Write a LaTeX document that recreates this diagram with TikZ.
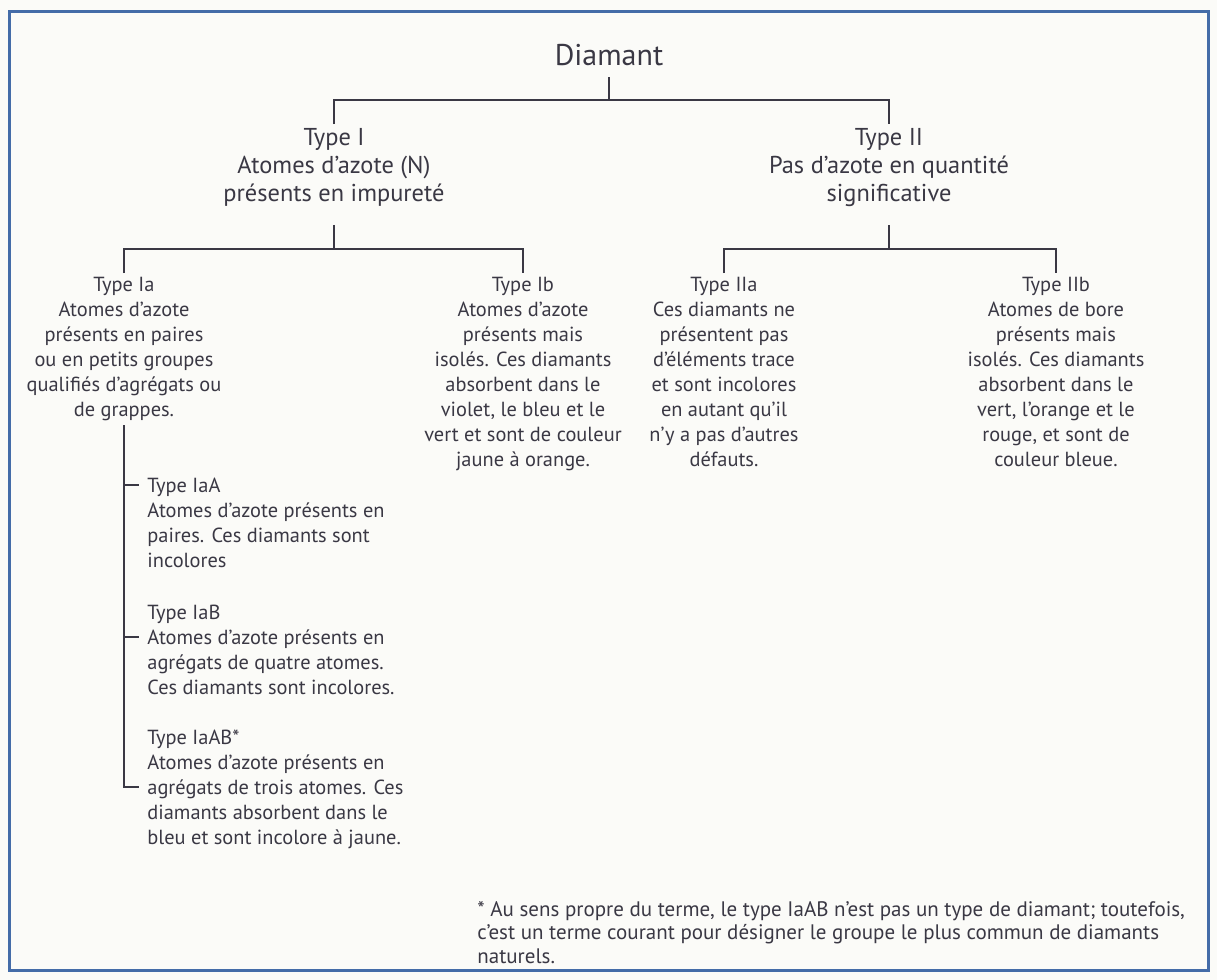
\documentclass[tikz,border=0pt]{standalone}
\usepackage{fontspec}
\setmainfont{PT Sans}
\definecolor{ink}{RGB}{58,56,68}
\definecolor{frameblue}{RGB}{68,108,168}
\definecolor{paper}{RGB}{251,251,248}
\begin{document}
\begin{tikzpicture}[
    x=0.5pt,
    y=-0.5pt,
    link/.style={draw=ink, line width=1.2pt},
    root/.style={font=\fontsize{15}{18}\selectfont, text=ink, inner xsep=0pt, inner ysep=5.5pt},
    head/.style={font=\fontsize{12.2}{14}\selectfont, text=ink, align=center, inner sep=2pt, anchor=north},
    leaf/.style={font=\fontsize{10.2}{12.5}\selectfont, text=ink, align=center, inner sep=2pt, anchor=north},
    sub/.style={font=\fontsize{10.2}{12.5}\selectfont, text=ink, align=left, inner sep=0pt, anchor=north west}
  ]
    \fill[paper] (0,0) rectangle (1217,980);
    \draw[frameblue, line width=1.5pt] (9,11) rectangle (1208,970);
    \node[root] (diamant) at (609,55) {Diamant};
    \node[head] (typeI) at (334,124) {Type I\\Atomes d’azote (N)\\présents en impureté};
    \node[head] (typeII) at (889,124) {Type II\\Pas d’azote en quantité\\significative};
    \coordinate (jD) at (609,100);
    \draw[link] (diamant.south) -- (jD);
    \draw[link] (typeI.north) |- (jD) -| (typeII.north);
    \node[leaf] (typeIa) at (124,273) {Type Ia\\Atomes d’azote\\présents en paires\\ou en petits groupes\\qualifiés d’agrégats ou\\de grappes.};
    \node[leaf] (typeIb) at (523,273) {Type Ib\\Atomes d’azote\\présents mais\\isolés. Ces diamants\\absorbent dans le\\violet, le bleu et le\\vert et sont de couleur\\jaune à orange.};
    \node[leaf] (typeIIa) at (724,273) {Type IIa\\Ces diamants ne\\présentent pas\\d’éléments trace\\et sont incolores\\en autant qu’il\\n’y a pas d’autres\\défauts.};
    \node[leaf] (typeIIb) at (1056,273) {Type IIb\\Atomes de bore\\présents mais\\isolés. Ces diamants\\absorbent dans le\\vert, l’orange et le\\rouge, et sont de\\couleur bleue.};
    \coordinate (jI) at (334,249);
    \coordinate (jII) at (889,249);
    \draw[link] ([yshift=-7pt]typeI.south) -- (jI);
    \draw[link] ([yshift=-7pt]typeII.south) -- (jII);
    \draw[link] (typeIa.north) |- (jI) -| (typeIb.north);
    \draw[link] (typeIIa.north) |- (jII) -| (typeIIb.north);
    \node[sub] (iaA) at (147,478) {Type IaA\\Atomes d’azote présents en\\paires. Ces diamants sont\\incolores};
    \node[sub] (iaB) at (147,605) {Type IaB\\Atomes d’azote présents en\\agrégats de quatre atomes.\\Ces diamants sont incolores.};
    \node[sub] (iaAB) at (147,730) {Type IaAB*\\Atomes d’azote présents en\\agrégats de trois atomes. Ces\\diamants absorbent dans le\\bleu et sont incolore à jaune.};
    \coordinate (kA) at (139,485);
    \coordinate (kB) at (139,637);
    \coordinate (kAB) at (139,787);
    \draw[link] (typeIa.south) |- (kAB);
    \foreach \k in {kA,kB}
      \draw[link] (typeIa.south |- \k) -- (\k);
    \node[anchor=north west, inner sep=0pt, align=left, text=ink, font=\fontsize{10.5}{11.75}\selectfont] (note) at (477,901) {* Au sens propre du terme, le type IaAB n’est pas un type de diamant; toutefois,\\c’est un terme courant pour désigner le groupe le plus commun de diamants\\naturels.};
  \end{tikzpicture}
\end{document}
